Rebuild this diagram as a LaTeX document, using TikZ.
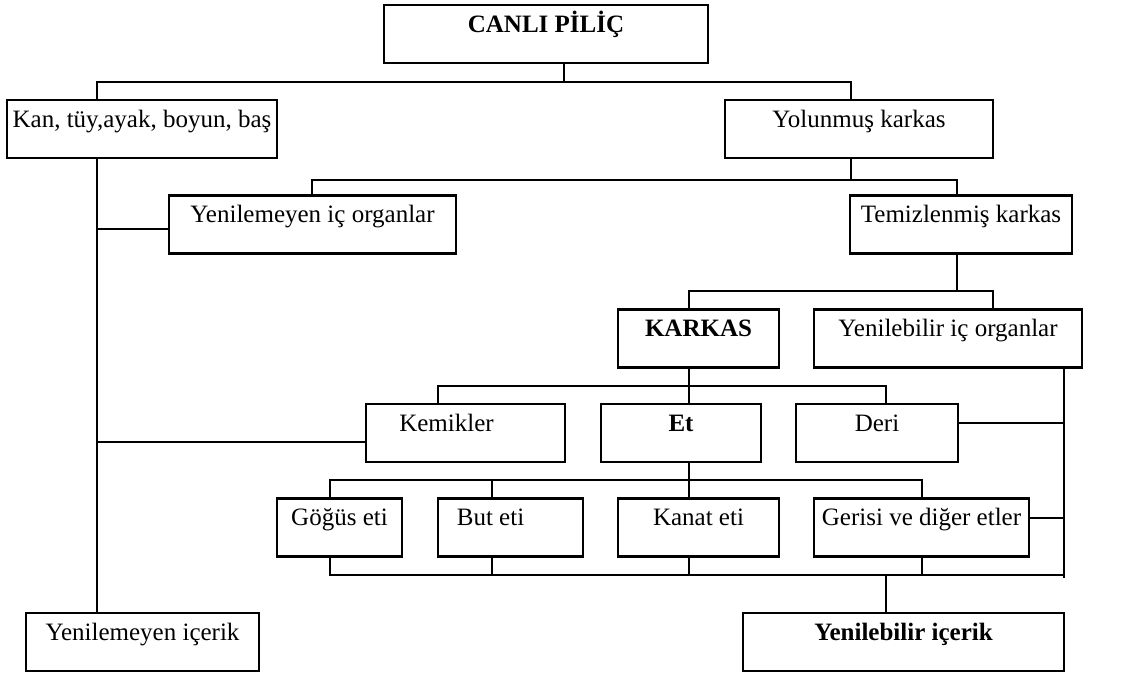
\documentclass[tikz,border=0pt]{standalone}
\usepackage{fontspec}
\setmainfont{Liberation Serif}
\begin{document}
\begin{tikzpicture}[x=0.5pt,y=-0.5pt,
  font=\fontsize{12.5pt}{15pt}\selectfont,
  kutu/.style={draw, line width=1.3pt, inner sep=0pt, text height=9pt, text depth=11pt, minimum height=29pt},
  hat/.style={draw, line width=0.8pt}]
\useasboundingbox (0,0) rectangle (1123,675);
% kutular
\node[kutu, minimum width=162pt] (canli) at (546,34) {\textbf{CANLI PİLİÇ}};
\node[kutu, minimum width=135pt] (kan) at (142,129) {Kan, tüy,ayak, boyun, baş};
\node[kutu, minimum width=134pt] (yolun) at (859,129) {Yolunmuş karkas};
\node[kutu, minimum width=143.5pt] (yenorg) at (312.5,224.5) {Yenilemeyen iç organlar};
\node[kutu, minimum width=111pt] (temiz) at (961,224.5) {Temizlenmiş karkas};
\node[kutu, minimum width=80.5pt] (karkas) at (698.5,338.5) {\textbf{KARKAS}};
\node[kutu, minimum width=134pt] (yenorgb) at (948,338.5) {Yenilebilir iç organlar};
\node[kutu, minimum width=99.5pt] (kemik) at (465.5,433) {Kemikler\hspace*{19pt}};
\node[kutu, minimum width=80pt] (et) at (681,433) {\textbf{Et}};
\node[kutu, minimum width=81pt] (deri) at (877,433) {Deri};
\node[kutu, minimum width=62.5pt] (gogus) at (339.5,527.5) {Göğüs eti};
\node[kutu, minimum width=72.5pt] (but) at (510.5,527.5) {But eti\hspace*{20pt}};
\node[kutu, minimum width=80.5pt] (kanat) at (698.5,527.5) {Kanat eti};
\node[kutu, minimum width=107.5pt] (gerisi) at (921.5,527.5) {Gerisi ve diğer etler};
\node[kutu, minimum width=116.5pt] (yenicerik) at (142.5,642) {Yenilemeyen içerik};
\node[kutu, minimum width=160.5pt] (yenilebilir) at (903.5,642) {\textbf{Yenilebilir içerik}};
% canli pilic
\coordinate (a) at (97,82);
\coordinate (b) at (851,82);
\coordinate (j1) at (564,82);
\draw[hat] (canli.south -| j1) -- (j1);
\draw[hat] (kan.north -| a) -- (a) -- (b) -- (yolun.north -| b);
% sol hat
\coordinate (a1) at (97,229);
\coordinate (a2) at (97,442);
\draw[hat] (kan.south -| a) -- (yenicerik.north -| a);
\draw[hat] (a1) -- (a1 -| yenorg.west);
\draw[hat] (a2) -- (a2 -| kemik.west);
% yolunmus karkas
\coordinate (c) at (851,180);
\coordinate (c1) at (312,180);
\coordinate (c2) at (957,180);
\draw[hat] (yolun.south -| c) -- (c);
\draw[hat] (yenorg.north -| c1) -- (c1) -- (c2) -- (temiz.north -| c2);
% temizlenmis karkas
\coordinate (d) at (957,291);
\coordinate (d1) at (689,291);
\coordinate (d2) at (993,291);
\draw[hat] (temiz.south -| d) -- (d);
\draw[hat] (karkas.north -| d1) -- (d1) -- (d2) -- (yenorgb.north -| d2);
% karkas
\coordinate (e) at (689,386);
\coordinate (e1) at (438,386);
\coordinate (e2) at (886,386);
\draw[hat] (karkas.south -| e) -- (e) -- (et.north -| e);
\draw[hat] (kemik.north -| e1) -- (e1) -- (e2) -- (deri.north -| e2);
% sag hat
\coordinate (r) at (1064,578);
\coordinate (r2) at (1064,423);
\coordinate (r3) at (1064,518);
\draw[hat] (yenorgb.south -| r) -- (r);
\draw[hat] (r2 -| deri.east) -- (r2);
\draw[hat] (r3 -| gerisi.east) -- (r3);
% et
\coordinate (f) at (689,480);
\coordinate (f1) at (330,480);
\coordinate (f2) at (492,480);
\coordinate (f3) at (922,480);
\draw[hat] (et.south -| f) -- (f) -- (kanat.north -| f);
\draw[hat] (gogus.north -| f1) -- (f1) -- (f3) -- (gerisi.north -| f3);
\draw[hat] (but.north -| f2) -- (f2);
% alt hat
\coordinate (g1) at (330,575);
\coordinate (g2) at (492,575);
\coordinate (g3) at (689,575);
\coordinate (g4) at (922,575);
\coordinate (g5) at (1064,575);
\coordinate (g6) at (886,575);
\draw[hat] (gogus.south -| g1) -- (g1) -- (g5);
\draw[hat] (but.south -| g2) -- (g2);
\draw[hat] (kanat.south -| g3) -- (g3);
\draw[hat] (gerisi.south -| g4) -- (g4);
\draw[hat] (g6) -- (yenilebilir.north -| g6);
\end{tikzpicture}
\end{document}
